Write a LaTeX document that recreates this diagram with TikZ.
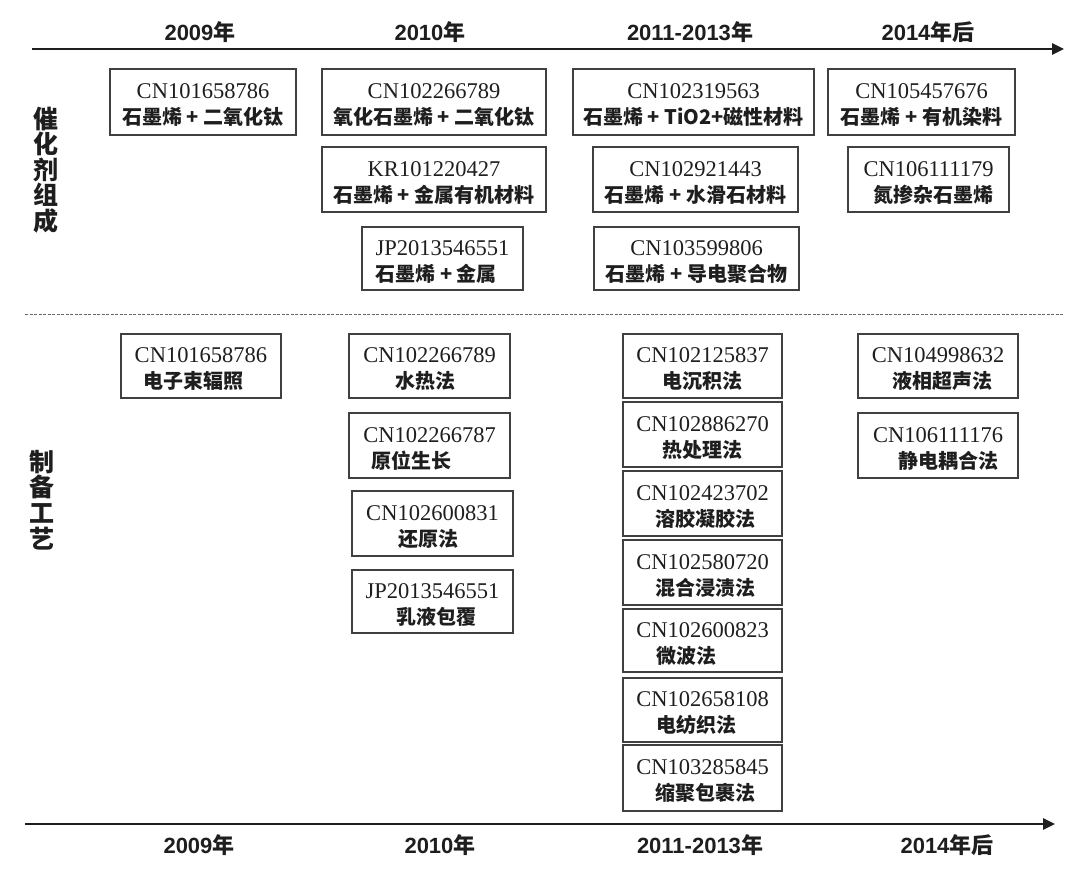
\documentclass[tikz,border=0pt]{standalone}
\usepackage{fontspec}
\setmainfont{Liberation Serif}
\newfontfamily\cjk{Noto Sans CJK SC}
\newfontfamily\yfont{Liberation Sans}
\usetikzlibrary{arrows.meta}
\definecolor{ink}{HTML}{1E1E1E}
\definecolor{frame}{HTML}{404040}
\newcommand\entry[2]{{\fontsize{22.5}{26}\selectfont\rule{0pt}{21.5pt}#1}\\{\cjk\bfseries\fontsize{20}{26}\selectfont #2}}
\newcommand\yr[2]{{\yfont\bfseries #1}{\cjk\bfseries #2}}
\tikzset{
  pbox/.style={draw=frame, line width=1.3pt, inner sep=0pt, align=center, text=ink,
    font=\fontsize{22.5}{26}\selectfont},
  yearlbl/.style={text=ink, inner sep=0pt, font=\fontsize{22}{26}\selectfont},
  sidelbl/.style={text=ink, inner sep=0pt, align=center,
    font=\cjk\bfseries\fontsize{25}{25.6}\selectfont},
  axisline/.style={draw=ink, line width=2.6pt, -{Triangle[length=12pt,width=11pt]}},
  sepline/.style={draw=black!60, line width=1pt, dash pattern=on 3pt off 1.5pt}
}
\begin{document}
\begin{tikzpicture}[x=1pt,y=-1pt]
\useasboundingbox[fill=white] (0,0) rectangle (1080,869);

% axes
\coordinate (tA) at (32,49);
\coordinate (tB) at (1064,49);
\draw[axisline] (tA) -- (tB);
\coordinate (bA) at (25,824);
\coordinate (bB) at (1055,824);
\draw[axisline] (bA) -- (bB);
\coordinate (dA) at (25,315);
\coordinate (dB) at (1064,315);
\draw[sepline] (dA) -- (dB);

% year labels
\node[yearlbl] (ty1) at (200,32) {\yr{2009}{年}};
\node[yearlbl] (ty2) at (430,32) {\yr{2010}{年}};
\node[yearlbl] (ty3) at (690,32) {\yr{2011-2013}{年}};
\node[yearlbl] (ty4) at (928,32) {\yr{2014}{年后}};
\node[yearlbl] (by1) at (199,845) {\yr{2009}{年}};
\node[yearlbl] (by2) at (440,845) {\yr{2010}{年}};
\node[yearlbl] (by3) at (700,845) {\yr{2011-2013}{年}};
\node[yearlbl] (by4) at (947,845) {\yr{2014}{年后}};

% side labels
\node[sidelbl] (s1) at (46,170) {催\\化\\剂\\组\\成};
\node[sidelbl] (s2) at (42,500) {制\\备\\工\\艺};

% catalyst composition
\node[pbox, minimum width=186pt, minimum height=66pt] (b1) at (203,102) {\entry{CN101658786}{石墨烯 + 二氧化钛}};
\node[pbox, minimum width=224pt, minimum height=66pt] (b2) at (434,102) {\entry{CN102266789}{氧化石墨烯 + 二氧化钛}};
\node[pbox, minimum width=224pt, minimum height=65pt] (b3) at (434,179.5) {\entry{KR101220427}{石墨烯 + 金属有机材料}};
\node[pbox, align=left, minimum width=161pt, minimum height=63pt] (b4) at (442.5,258.5) {\entry{JP2013546551}{石墨烯 + 金属}};
\node[pbox, minimum width=241pt, minimum height=66pt] (b5) at (693.5,102) {\entry{CN102319563}{石墨烯 + TiO2+磁性材料}};
\node[pbox, minimum width=205pt, minimum height=65pt] (b6) at (695.5,179.5) {\entry{CN102921443}{石墨烯 + 水滑石材料}};
\node[pbox, minimum width=205pt, minimum height=63pt] (b7) at (696.5,258.5) {\entry{CN103599806}{石墨烯 + 导电聚合物}};
\node[pbox, minimum width=187pt, minimum height=66pt] (b8) at (921.5,102) {\entry{CN105457676}{石墨烯 + 有机染料}};
\node[pbox, align=right, minimum width=161pt, minimum height=65pt] (b9) at (928.5,179.5) {\entry{CN106111179}{氮掺杂石墨烯}};

% preparation process
\node[pbox, minimum width=160pt, minimum height=64pt] (b10) at (201,366) {\entry{CN101658786}{电子束辐照\hspace*{16pt}}};
\node[pbox, minimum width=161pt, minimum height=64pt] (b11) at (429.5,366) {\entry{CN102266789}{水热法\hspace*{8pt}}};
\node[pbox, minimum width=161pt, minimum height=65pt] (b12) at (429.5,445.5) {\entry{CN102266787}{原位生长\hspace*{36pt}}};
\node[pbox, minimum width=161pt, minimum height=65pt] (b13) at (432.5,523.5) {\entry{CN102600831}{还原法\hspace*{8pt}}};
\node[pbox, minimum width=161pt, minimum height=63pt] (b14) at (432.5,601.5) {\entry{JP2013546551}{\hspace*{8pt}乳液包覆}};
\node[pbox, minimum width=159pt, minimum height=64pt] (b15) at (702.5,366) {\entry{CN102125837}{电沉积法}};
\node[pbox, minimum width=159pt, minimum height=65pt] (b16) at (702.5,434.5) {\entry{CN102886270}{热处理法}};
\node[pbox, minimum width=159pt, minimum height=65pt] (b17) at (702.5,503.5) {\entry{CN102423702}{\hspace*{6pt}溶胶凝胶法}};
\node[pbox, minimum width=159pt, minimum height=65pt] (b18) at (702.5,572.5) {\entry{CN102580720}{\hspace*{6pt}混合浸渍法}};
\node[pbox, minimum width=159pt, minimum height=63pt] (b19) at (702.5,640.5) {\entry{CN102600823}{微波法\hspace*{32pt}}};
\node[pbox, minimum width=159pt, minimum height=64pt] (b20) at (702.5,710) {\entry{CN102658108}{电纺织法\hspace*{12pt}}};
\node[pbox, minimum width=159pt, minimum height=66pt] (b21) at (702.5,778) {\entry{CN103285845}{\hspace*{6pt}缩聚包裹法}};
\node[pbox, minimum width=160pt, minimum height=64pt] (b22) at (938,366) {\entry{CN104998632}{\hspace*{8pt}液相超声法}};
\node[pbox, minimum width=160pt, minimum height=65pt] (b23) at (938,445.5) {\entry{CN106111176}{\hspace*{20pt}静电耦合法}};
\end{tikzpicture}
\end{document}
